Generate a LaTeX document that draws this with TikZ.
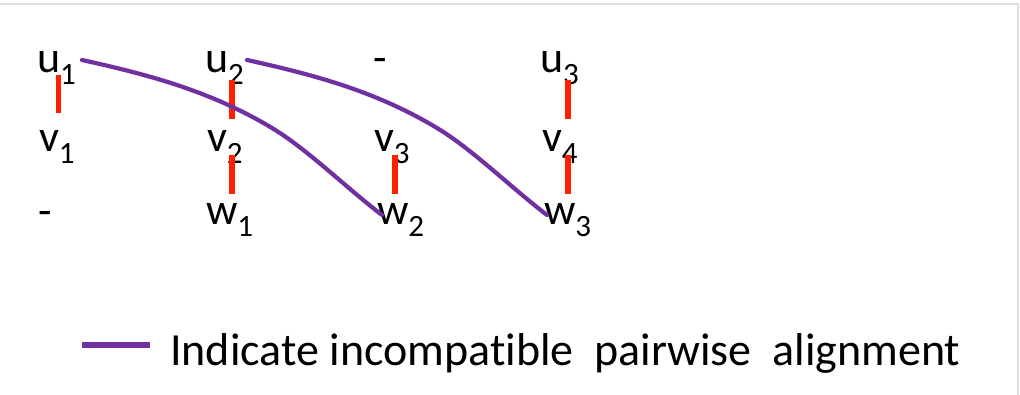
\documentclass[tikz,border=0pt]{standalone}
\usepackage{fontspec}
\setmainfont{Carlito}[Ligatures=NoCommon]
\definecolor{purp}{RGB}{112,48,160}
\definecolor{barred}{RGB}{255,32,0}
\definecolor{framegray}{RGB}{222,222,222}
\newcommand\seqlab[2]{#1\raisebox{-12pt}{\fontsize{31}{31}\selectfont #2}}
\begin{document}
\begin{tikzpicture}[x=1pt,y=-1pt,
  lab/.style={anchor=base west,inner sep=0pt,outer sep=0pt,font=\fontsize{44}{44}\selectfont},
  alignbar/.style={draw=barred,line width=5.5pt},
  incompat/.style={draw=purp,line width=4.2pt,line cap=round,line join=round},
]
\useasboundingbox (0,0) rectangle (1020,395);
\fill[white] (0,0) rectangle (1020,395);
\draw[framegray,line width=1.2pt] (0,4) -- (1018,4) -- (1018,395);

% labels
\node[lab] (u1) at (37,73) {\seqlab{u}{1}};
\node[lab] (u2) at (205,73) {\seqlab{u}{2}};
\node[lab] (g1) at (373,73) {-};
\node[lab] (u3) at (540,73) {\seqlab{u}{3}};
\node[lab] (v1) at (39,152) {\seqlab{v}{1}};
\node[lab] (v2) at (207,152) {\seqlab{v}{2}};
\node[lab] (v3) at (374,152) {\seqlab{v}{3}};
\node[lab] (v4) at (542,152) {\seqlab{v}{4}};
\node[lab] (g2) at (38,226) {-};
\node[lab] (w1) at (206,225) {\seqlab{w}{1}};
\node[lab] (w2) at (377,225) {\seqlab{w}{2}};
\node[lab] (w3) at (544,225) {\seqlab{w}{3}};

% alignment bars
\draw[alignbar] ([shift={(21.5,2)}]u1.base west) -- ([shift={(19.5,-39)}]v1.base west);
\draw[alignbar] ([shift={(27,7)}]u2.base west) -- ([shift={(25,-33)}]v2.base west);
\draw[alignbar] ([shift={(25,3)}]v2.base west) -- ([shift={(26,-31)}]w1.base west);
\draw[alignbar] ([shift={(21,3)}]v3.base west) -- ([shift={(18,-31)}]w2.base west);
\draw[alignbar] ([shift={(28,7)}]u3.base west) -- ([shift={(26,-33)}]v4.base west);
\draw[alignbar] ([shift={(26,3)}]v4.base west) -- ([shift={(24,-31)}]w3.base west);

% incompatible alignments
\coordinate (c1a) at ([shift={(45,-13)}]u1.base west);
\coordinate (c1b) at ([shift={(5,-10)}]w2.base west);
\coordinate (c2a) at ([shift={(42,-13)}]u2.base west);
\coordinate (c2b) at ([shift={(3,-10)}]w3.base west);
\draw[incompat] (c1a) .. controls (152,75.4) and (212,92) .. (272,128)
  .. controls (307,149) and (347,188.4) .. (c1b);
\draw[incompat] (c2a) .. controls (317,75.4) and (377,92) .. (437,128)
  .. controls (472,149) and (512,188.4) .. (c2b);

% legend
\coordinate (lega) at (82,345);
\coordinate (legb) at (150,345);
\draw[draw=purp,line width=6.5pt] (lega) -- (legb);
\node[anchor=base west,inner sep=0pt,font=\fontsize{46}{46}\selectfont] (leg) at (170,365) {Indicate incompatible\ \ pairwise\ \ alignment};
\end{tikzpicture}
\end{document}
